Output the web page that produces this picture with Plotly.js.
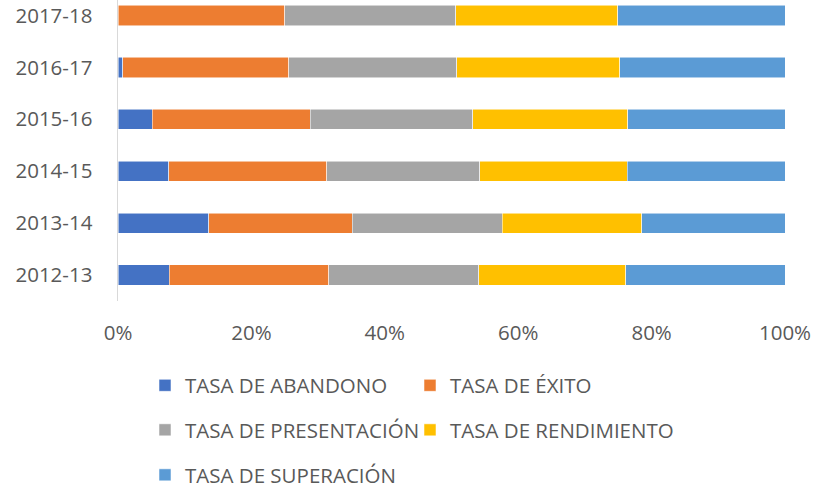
<!DOCTYPE html>
<html>
<head>
<meta charset="utf-8">
<script src="https://cdn.plot.ly/plotly-3.0.1.min.js"></script>
<style>html,body{margin:0;padding:0;background:#fff;}#chart{width:817px;height:488px;}</style>
</head>
<body>
<div id="chart"></div>
<script>
const categories = ['2012-13', '2013-14', '2014-15', '2015-16', '2016-17', '2017-18'];
const seriesNames = ['TASA DE ABANDONO', 'TASA DE ÉXITO', 'TASA DE PRESENTACIÓN', 'TASA DE RENDIMIENTO', 'TASA DE SUPERACIÓN'];
const abandono = [7.7, 13.6, 7.6, 5.1, 0.7, 0];
const exito = [23.9, 21.5, 23.7, 23.7, 24.9, 25.0];
const presentacion = [22.5, 22.5, 23.0, 24.4, 25.2, 25.7];
const rendimiento = [22.0, 20.9, 22.1, 23.2, 24.4, 24.3];
const superacion = [23.9, 21.5, 23.7, 23.6, 24.8, 25.1];
const xTicks = [0, 20, 40, 60, 80, 100];

const values = [abandono, exito, presentacion, rendimiento, superacion];
const colors = ['#4472C4', '#ED7D31', '#A5A5A5', '#FFC000', '#5B9BD5'];
const legendIds = ['legend', 'legend', 'legend2', 'legend2', 'legend3'];

const traces = values.map((v, i) => ({
  type: 'bar',
  orientation: 'h',
  name: seriesNames[i],
  y: categories,
  x: v,
  marker: {color: colors[i], line: {color: 'rgba(255,255,255,0.7)', width: 0.75}},
  legend: legendIds[i],
  hoverinfo: 'skip'
}));

const legendFont = {family: 'Open Sans', size: 20.5, color: '#595959'};
function mkLegend(x, y, ew) {
  return {
    orientation: 'h', xref: 'container', yref: 'container',
    x: x, y: y, xanchor: 'left', yanchor: 'middle',
    font: legendFont, bgcolor: 'rgba(0,0,0,0)', borderwidth: 0,
    entrywidth: ew, entrywidthmode: 'pixels', traceorder: 'normal',
    itemclick: false, itemdoubleclick: false
  };
}

const layout = {
  width: 817, height: 488,
  margin: {l: 118, r: 32, t: 0, b: 187, pad: 0},
  paper_bgcolor: '#ffffff', plot_bgcolor: '#ffffff',
  barmode: 'stack', barnorm: 'percent', bargap: 0.61,
  showlegend: true,
  font: {family: 'Open Sans', color: '#595959', size: 20.5},
  xaxis: {
    range: [0, 100], tickvals: xTicks, ticktext: xTicks.map(t => t + '%'),
    showgrid: false, zeroline: false, showline: false, ticks: '',
    ticklabelstandoff: 17,
    tickfont: {family: 'Open Sans', size: 20.5, color: '#595959'}
  },
  yaxis: {
    type: 'category', categoryorder: 'array', categoryarray: categories,
    range: [-0.5, 5.298], showgrid: false, zeroline: false,
    showline: true, linecolor: '#d9d9d9', linewidth: 1.5, ticks: '',
    ticklabelstandoff: 20,
    tickfont: {family: 'Open Sans', size: 20.5, color: '#595959'}
  },
  legend: mkLegend(145 / 817, 1 - 385.5 / 488, 220),
  legend2: mkLegend(145 / 817, 1 - 430 / 488, 220),
  legend3: mkLegend(145 / 817, 1 - 475 / 488, 220)
};

Plotly.newPlot('chart', traces, layout, {staticPlot: true, displayModeBar: false});
</script>
</body>
</html>
